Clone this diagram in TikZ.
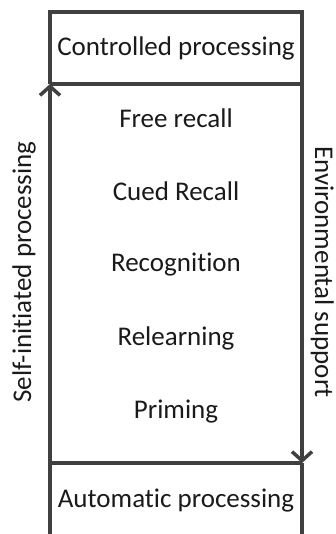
\documentclass[tikz,border=0pt]{standalone}
\usepackage{fontspec}
\setmainfont{Carlito}[RawFeature=-liga]
\usetikzlibrary{arrows.meta}
\definecolor{linegray}{HTML}{404040}
\definecolor{textgray}{HTML}{1A1A1A}
\tikzset{
  frame/.style={draw=linegray, line width=3.5pt, line cap=butt},
  flow/.style={draw=linegray, line width=3.5pt, -{Straight Barb[length=9pt,width=20pt,line width=3.5pt]}},
  lbl/.style={text=textgray, font=\fontsize{27}{32}\selectfont, inner sep=0pt},
}
\begin{document}
\begin{tikzpicture}[x=1pt,y=-1pt]
\useasboundingbox (0,0) rectangle (335,534);
% corners
\coordinate (tl) at (50,12);
\coordinate (tr) at (302,12);
\coordinate (ml) at (50,84);
\coordinate (mr) at (302,84);
\coordinate (bl) at (50,463);
\coordinate (br) at (302,463);
\coordinate (el) at (50,534);
\coordinate (er) at (302,534);
% frame
\draw[frame, line join=miter] (ml) -- (tl) -- (tr) -- (mr);
\draw[frame] (ml) -- (mr);
\draw[frame] (bl) -- (br);
\draw[frame] (bl) -- (el);
\draw[frame] (br) -- (er);
% arrows
\draw[flow] (bl) -- (ml);
\draw[flow] (mr) -- (br);
% texts
\node[lbl] (cp) at (176,48) {Controlled processing};
\node[lbl] (fr) at (176,118) {Free recall};
\node[lbl] (cr) at (176,191) {Cued Recall};
\node[lbl] (rc) at (176,265) {Recognition};
\node[lbl] (rl) at (176,338) {Relearning};
\node[lbl] (pr) at (176,412) {Priming};
\node[lbl] (ap) at (176,501) {Automatic processing};
\node[lbl, rotate=90, anchor=base] (si) at (31,272) {Self-initiated processing};
\node[lbl, rotate=-90, anchor=base] (es) at (315,272) {Environmental support};
\end{tikzpicture}
\end{document}
